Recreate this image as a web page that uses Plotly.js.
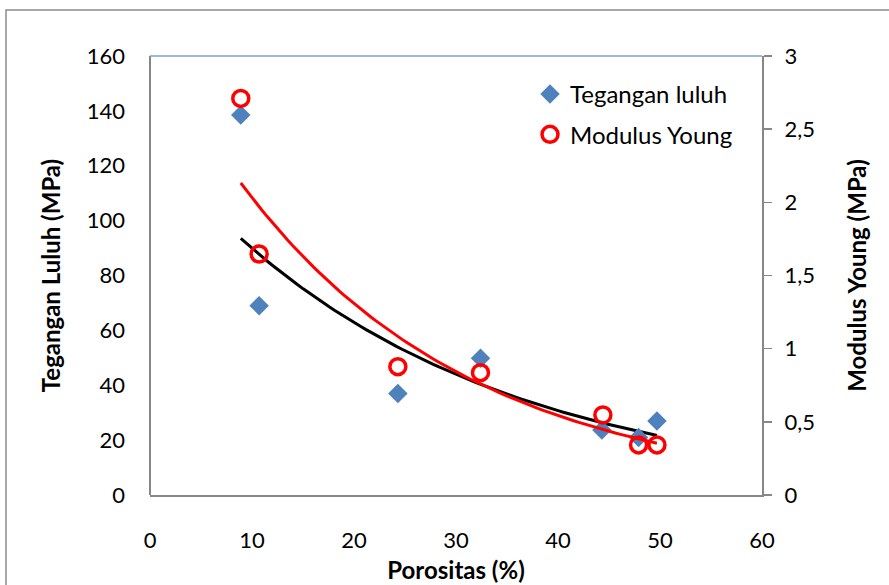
<!DOCTYPE html>
<html>
<head>
<meta charset="utf-8">
<script src="https://cdn.plot.ly/plotly-3.0.1.min.js"></script>
<style>
  html, body { margin: 0; padding: 0; background: #ffffff; }
  #chart { width: 889px; height: 585px; }
</style>
</head>
<body>
<div id="chart"></div>
<script>
// Porositas (%)
const porositas = [8.9, 10.7, 24.3, 32.4, 44.3, 47.9, 49.7];
// Tegangan luluh (MPa), left axis
const teganganLuluh = [138.5, 69, 37, 49.8, 23.7, 21, 27];
// Modulus Young (MPa), right axis
const porositasModulus = [8.9, 10.7, 24.3, 32.4, 44.4, 47.9, 49.7];
const modulusYoung = [2.71, 1.647, 0.877, 0.836, 0.547, 0.342, 0.342];

const xTicks = [0, 10, 20, 30, 40, 50, 60];
const yLeftTicks = [0, 20, 40, 60, 80, 100, 120, 140, 160];
const yRightTicks = [0, 0.5, 1, 1.5, 2, 2.5, 3];

// Exponential trendline (least squares on ln y), as the spreadsheet does
function expFit(xs, ys) {
  const n = xs.length;
  const ly = ys.map(v => Math.log(v));
  const mx = xs.reduce((a, b) => a + b, 0) / n;
  const my = ly.reduce((a, b) => a + b, 0) / n;
  let sxy = 0, sxx = 0;
  for (let i = 0; i < n; i++) { sxy += (xs[i] - mx) * (ly[i] - my); sxx += (xs[i] - mx) ** 2; }
  const b = sxy / sxx;
  const a = Math.exp(my - b * mx);
  const x0 = Math.min(...xs), x1 = Math.max(...xs);
  const fx = [], fy = [];
  const steps = 80;
  for (let k = 0; k <= steps; k++) {
    const x = x0 + (x1 - x0) * k / steps;
    fx.push(x); fy.push(a * Math.exp(b * x));
  }
  return { x: fx, y: fy };
}
const fitT = expFit(porositas, teganganLuluh);
const fitM = expFit(porositasModulus, modulusYoung);

const FONT = 'Lato, "Open Sans", "DejaVu Sans", sans-serif';
const AXIS_GRAY = '#878787';

// plot area geometry (pixels): margins and the gap between left labels and left axis line
const W = 889, H = 585, ML = 125, MR = 127, MT = 56, MB = 90, GAP = 25;
const PW = W - ML - MR, PH = H - MT - MB;
const xDom0 = GAP / PW;
const px = v => (v - ML) / PW;          // page px -> paper x
const py = v => (H - MB - v) / PH;      // page px -> paper y

const data = [
  { x: fitT.x, y: fitT.y, type: 'scatter', mode: 'lines', yaxis: 'y',
    line: { color: '#000000', width: 3 }, showlegend: false, hoverinfo: 'skip' },
  { x: fitM.x, y: fitM.y, type: 'scatter', mode: 'lines', yaxis: 'y2',
    line: { color: '#ff0000', width: 3 }, showlegend: false, hoverinfo: 'skip' },
  { x: porositas, y: teganganLuluh, type: 'scatter', mode: 'markers', yaxis: 'y',
    name: 'Tegangan luluh', legendgroup: 'a',
    marker: { symbol: 'diamond', size: 15, color: '#4f81bd', line: { width: 0 } } },
  { x: porositasModulus, y: modulusYoung, type: 'scatter', mode: 'markers', yaxis: 'y2',
    name: 'Modulus Young', legendgroup: 'b',
    marker: { symbol: 'circle-open', size: 16, color: '#ff0000', line: { color: '#ff0000', width: 3.5 } } }
];

const layout = {
  width: W, height: H,
  margin: { l: ML, r: MR, t: MT, b: MB, pad: 0 },
  paper_bgcolor: '#ffffff', plot_bgcolor: 'rgba(0,0,0,0)',
  separators: ',.',
  font: { family: FONT, size: 22, color: '#000000' },
  showlegend: true,
  legend: {
    x: px(530), y: py(72), xanchor: 'left', yanchor: 'top',
    bgcolor: 'rgba(0,0,0,0)', borderwidth: 0,
    font: { family: FONT, size: 24, color: '#000000' },
    itemwidth: 30, tracegroupgap: 6
  },
  xaxis: {
    domain: [xDom0, 1],
    range: [0, 60], tickmode: 'array', tickvals: xTicks,
    showline: true, linecolor: AXIS_GRAY, linewidth: 2,
    ticks: '', showgrid: false, zeroline: false,
    ticklabelstandoff: 25,
    tickfont: { family: FONT, size: 22 },
    title: { text: '<b>Porositas (%)</b>', font: { family: FONT, size: 24 }, standoff: 10 }
  },
  yaxis: {
    anchor: 'free', position: 0,
    range: [0, 160], tickmode: 'array', tickvals: yLeftTicks,
    showline: false, ticks: '', showgrid: false, zeroline: false,
    tickfont: { family: FONT, size: 22 },
    title: { text: '<b>Tegangan Luluh (MPa)</b>', font: { family: FONT, size: 24 }, standoff: 18 }
  },
  yaxis2: {
    overlaying: 'y', side: 'right', anchor: 'x',
    range: [0, 3], tickmode: 'array', tickvals: yRightTicks,
    showline: true, linecolor: AXIS_GRAY, linewidth: 2,
    ticks: 'outside', ticklen: 8, tickcolor: AXIS_GRAY, tickwidth: 1.5,
    showgrid: false, zeroline: false,
    ticklabelstandoff: 8,
    tickfont: { family: FONT, size: 22 },
    title: { text: '<b>Modulus Young (MPa)</b>', font: { family: FONT, size: 24 }, standoff: 35 }
  },
  shapes: [
    // left value-axis line
    { type: 'line', xref: 'paper', yref: 'paper', x0: xDom0, x1: xDom0, y0: 0, y1: 1,
      line: { color: AXIS_GRAY, width: 2 } },
    // top border line of the plot area
    { type: 'line', xref: 'paper', yref: 'paper', x0: xDom0, x1: 1, y0: 1, y1: 1,
      line: { color: '#7a9fd3', width: 1.5 } },
    // outer chart border
    { type: 'rect', xref: 'paper', yref: 'paper', x0: px(6), x1: px(900), y0: py(600), y1: py(10),
      line: { color: '#8c8c8c', width: 1.5 }, fillcolor: 'rgba(0,0,0,0)', layer: 'below' }
  ]
};

Plotly.newPlot('chart', data, layout, { staticPlot: true, displayModeBar: false });
</script>
</body>
</html>
